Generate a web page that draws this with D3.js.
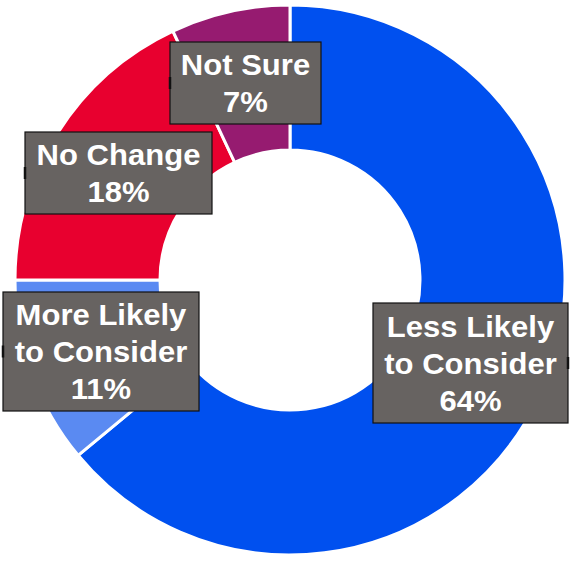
<!DOCTYPE html>
<html>
<head>
<meta charset="utf-8">
<script src="https://cdn.jsdelivr.net/npm/d3@7"></script>
<style>
  html, body { margin: 0; padding: 0; background: #ffffff; }
  svg { display: block; }
</style>
</head>
<body>
<svg id="chart" width="577" height="563"></svg>
<script>
// Survey response shares, in drawing order (clockwise from 12 o'clock)
const categories = ["Less Likely to Consider", "More Likely to Consider", "No Change", "Not Sure"];
const labelLines = [["Less Likely", "to Consider"], ["More Likely", "to Consider"], ["No Change"], ["Not Sure"]];
const values = [64, 11, 18, 7];
const colors = ["#0050EF", "#5A8AF2", "#E8002F", "#961B70"];

// Label box placement (centre, size) for each slice
const labelBoxes = [
  { cx: 470.5, cy: 363, w: 195, h: 120, side: "right" },
  { cx: 101, cy: 351.5, w: 196, h: 119, side: "left" },
  { cx: 118.5, cy: 173, w: 187, h: 82, side: "left" },
  { cx: 245.5, cy: 83, w: 151, h: 82, side: "left" }
];

const svg = d3.select("#chart");
const cx = 290, cy = 280, outerR = 275, innerR = 130;

const pie = d3.pie().sort(null).value(d => d.value);
const arc = d3.arc().innerRadius(innerR).outerRadius(outerR);

const data = categories.map((c, i) => ({ name: c, value: values[i], color: colors[i], lines: labelLines[i], box: labelBoxes[i] }));

const g = svg.append("g").attr("transform", `translate(${cx},${cy})`);
g.selectAll("path.slice")
  .data(pie(data))
  .join("path")
  .attr("class", "slice")
  .attr("d", arc)
  .attr("fill", d => d.data.color)
  .attr("stroke", "#ffffff")
  .attr("stroke-width", 3)
  .attr("stroke-linejoin", "miter");

// Data labels: grey boxes with white bold text
const labels = svg.selectAll("g.label")
  .data(data)
  .join("g")
  .attr("class", "label")
  .attr("transform", d => `translate(${d.box.cx},${d.box.cy})`);

labels.append("rect")
  .attr("x", d => -d.box.w / 2)
  .attr("y", d => -d.box.h / 2)
  .attr("width", d => d.box.w)
  .attr("height", d => d.box.h)
  .attr("fill", "#676361")
  .attr("stroke", "#111111")
  .attr("stroke-width", 1.2);

// short leader stubs on the box edge
labels.append("line")
  .attr("x1", d => d.box.side === "right" ? d.box.w / 2 : -d.box.w / 2)
  .attr("x2", d => d.box.side === "right" ? d.box.w / 2 : -d.box.w / 2)
  .attr("y1", -6)
  .attr("y2", 6)
  .attr("stroke", "#111111")
  .attr("stroke-width", 2.5);

const lineH = 37;
labels.each(function (d) {
  const lines = d.lines.concat([d.value + "%"]);
  const n = lines.length;
  d3.select(this).selectAll("text")
    .data(lines)
    .join("text")
    .attr("transform", (t, i) => `translate(0,${(i - (n - 1) / 2) * lineH + 10.5}) scale(1.035,1)`)
    .attr("text-anchor", "middle")
    .attr("font-family", "Liberation Sans, Arial, sans-serif")
    .attr("font-weight", "bold")
    .attr("font-size", 30)
    .attr("fill", "#ffffff")
    .text(t => t);
});
</script>
</body>
</html>
